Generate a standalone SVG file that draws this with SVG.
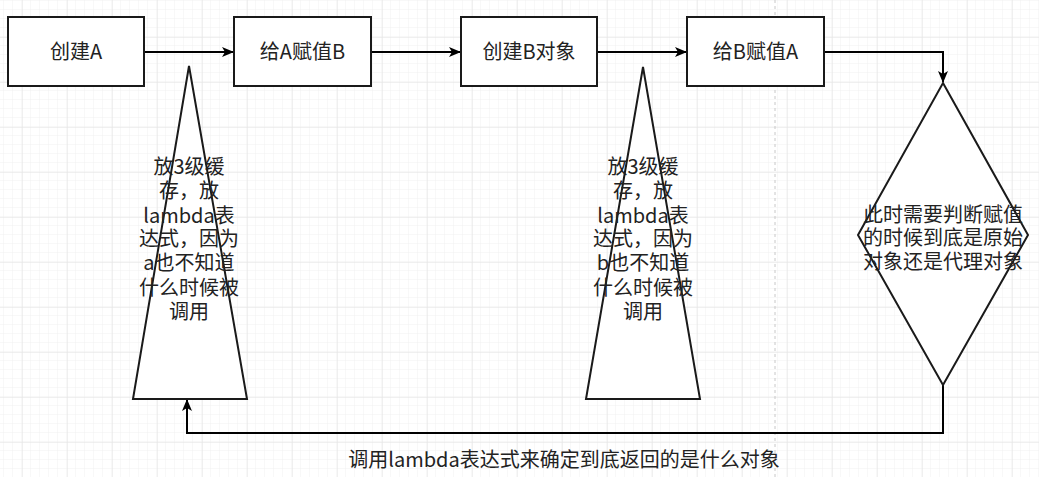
<svg xmlns="http://www.w3.org/2000/svg" width="1039" height="477" viewBox="0 0 1039 477">
<defs>
<pattern id="minor" x="4" y="1" width="9" height="9" patternUnits="userSpaceOnUse">
<path d="M9 0V9M0 9H9" fill="none" stroke="#f1f1f1" stroke-width="1"/>
</pattern>
<pattern id="major" x="22" y="37" width="45" height="45" patternUnits="userSpaceOnUse">
<path d="M0 0V45M0 0H45" fill="none" stroke="#e2e2e2" stroke-width="1"/>
</pattern>
<marker id="arr" viewBox="0 0 12 10" refX="11" refY="5" markerWidth="12" markerHeight="10" markerUnits="userSpaceOnUse" orient="auto">
<path d="M0 0L12 5L0 10L3 5Z" fill="#000"/>
</marker>
</defs>
<style>
.shape{fill:#fff;stroke:#1a1a1a;stroke-width:2}
.edge{fill:none;stroke:#000;stroke-width:2}
.t{font-family:"Noto Sans CJK SC","Noto Sans",sans-serif;font-size:20px;fill:#222;text-anchor:middle}
</style>
<rect width="1039" height="477" fill="#fff"/>
<rect width="1039" height="477" fill="url(#minor)"/>
<rect width="1039" height="477" fill="url(#major)"/>
<line x1="775" y1="0" x2="775" y2="477" stroke="#c8c8c8" stroke-width="1" stroke-dasharray="3 3"/>
<g id="connectors">
<path class="edge" d="M144 52H233" marker-end="url(#arr)"/>
<path class="edge" d="M371 52H460" marker-end="url(#arr)"/>
<path class="edge" d="M597 52H686" marker-end="url(#arr)"/>
<path class="edge" d="M824 52H943V82" marker-end="url(#arr)"/>
<path class="edge" d="M943 385V433H187V400" marker-end="url(#arr)"/>
</g>
<g id="box1"><rect class="shape" x="8" y="17" width="136" height="69"/><text class="t" x="76" y="59">创建A</text></g>
<g id="box2"><rect class="shape" x="234" y="17" width="137" height="69"/><text class="t" x="302.5" y="59">给A赋值B</text></g>
<g id="box3"><rect class="shape" x="461" y="17" width="136" height="69"/><text class="t" x="529" y="59">创建B对象</text></g>
<g id="box4"><rect class="shape" x="687" y="17" width="137" height="69"/><text class="t" x="755.5" y="59">给B赋值A</text></g>
<g id="tri1">
<polygon class="shape" points="189,66 247,399 133,399"/>
<text class="t"><tspan x="189" y="174">放3级缓</tspan><tspan x="189" y="198">存，放</tspan><tspan x="189" y="223">lambda表</tspan><tspan x="189" y="246">达式，因为</tspan><tspan x="189" y="270">a也不知道</tspan><tspan x="189" y="295">什么时候被</tspan><tspan x="189" y="319">调用</tspan></text>
</g>
<g id="tri2">
<polygon class="shape" points="643,67 700,399 586,399"/>
<text class="t"><tspan x="643" y="174">放3级缓</tspan><tspan x="643" y="198">存，放</tspan><tspan x="643" y="223">lambda表</tspan><tspan x="643" y="246">达式，因为</tspan><tspan x="643" y="270">b也不知道</tspan><tspan x="643" y="295">什么时候被</tspan><tspan x="643" y="319">调用</tspan></text>
</g>
<g id="diamond">
<polygon class="shape" points="943,83 1028,235 943,385 858,235"/>
<text class="t"><tspan x="943" y="222">此时需要判断赋值</tspan><tspan x="943" y="245">的时候到底是原始</tspan><tspan x="943" y="269">对象还是代理对象</tspan></text>
</g>
<g id="edge-label"><text class="t" x="564" y="467">调用lambda表达式来确定到底返回的是什么对象</text></g>
</svg>
